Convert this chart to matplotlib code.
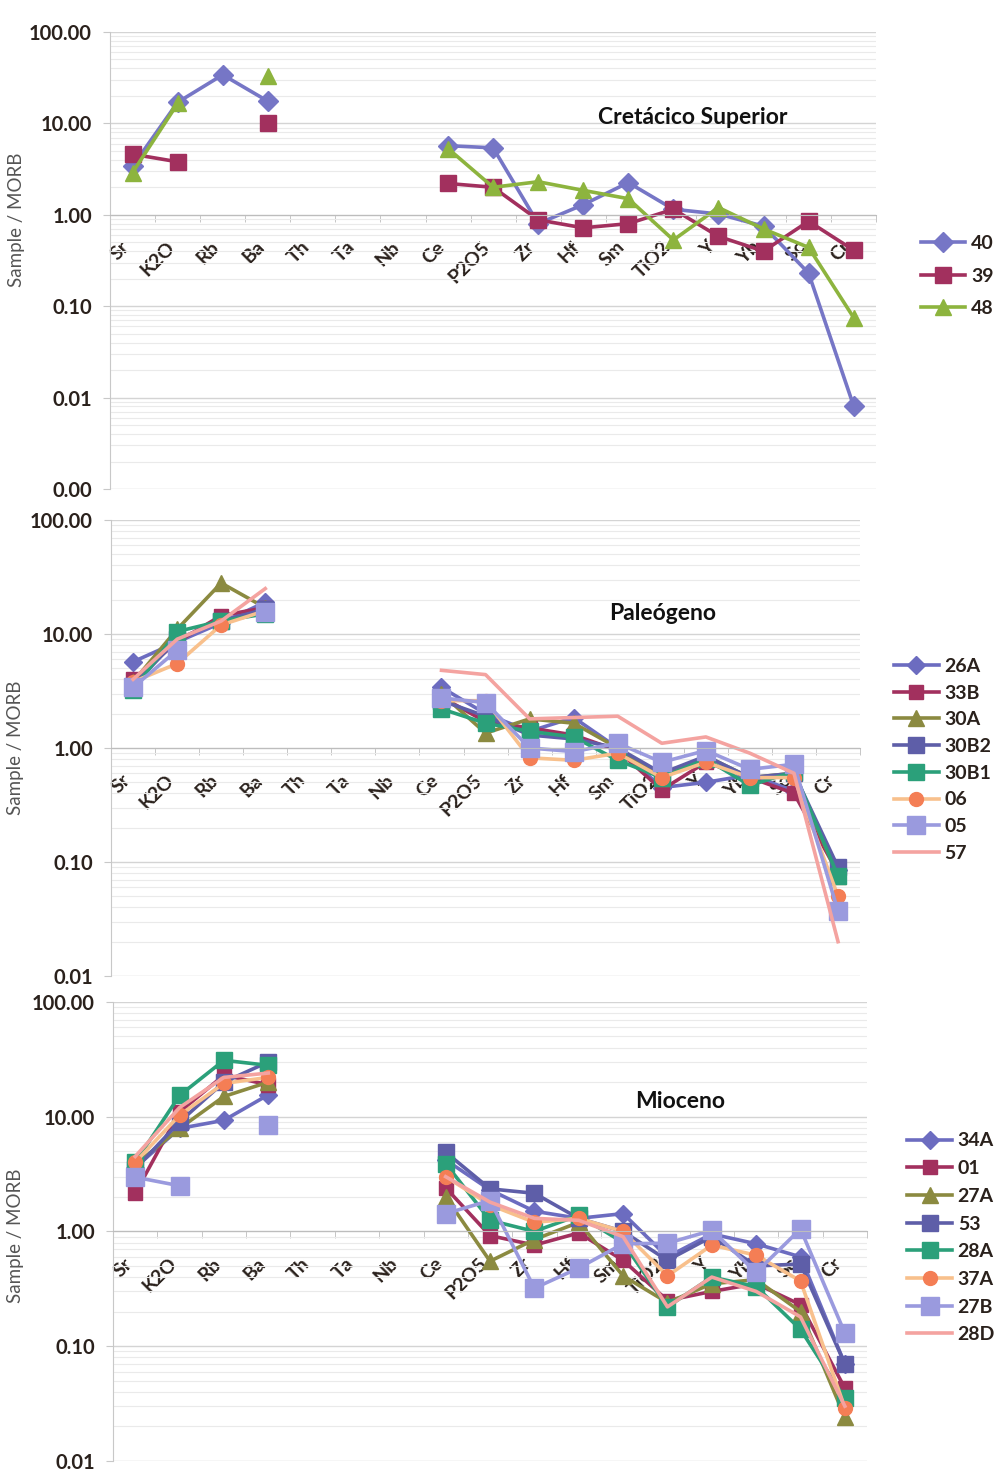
import numpy as np
import matplotlib
matplotlib.use('Agg')
import matplotlib.pyplot as plt
import matplotlib.transforms as mtransforms
from matplotlib.ticker import FuncFormatter, LogLocator, NullFormatter

plt.rcParams['font.family'] = ['Lato', 'DejaVu Sans']

nan = np.nan
elementos = ['Sr', 'K2O', 'Rb', 'Ba', 'Th', 'Ta', 'Nb', 'Ce', 'P2O5', 'Zr', 'Hf',
             'Sm', 'TiO2', 'Y', 'Yb', 'Sc', 'Cr']

# Cretácico Superior
nombres_cs = ['40', '39', '48']
m40 = [3.4, 17.0, 34.0, 17.5, nan, nan, nan, 5.7, 5.4, 0.80, 1.29, 2.25, 1.15, 1.02, 0.75, 0.23, 0.0081]
m39 = [4.6, 3.8, nan, 10.2, nan, nan, nan, 2.2, 2.0, 0.88, 0.72, 0.80, 1.15, 0.58, 0.40, 0.85, 0.41]
m48 = [2.9, 16.5, nan, 33.0, nan, nan, nan, 5.3, 2.0, 2.3, 1.85, 1.5, 0.53, 1.2, 0.70, 0.44, 0.075]

# Paleógeno
nombres_pa = ['26A', '33B', '30A', '30B2', '30B1', '06', '05', '57']
m26A = [5.7, 8.5, 12.5, 19.0, nan, nan, nan, 3.4, 2.0, 1.4, 1.85, 1.0, 0.45, 0.50, 0.58, 0.42, 0.085]
m33B = [4.0, 8.5, 14.5, 17.0, nan, nan, nan, 2.8, 1.7, 1.5, 1.3, 0.95, 0.43, 0.75, 0.55, 0.40, 0.080]
m30A = [3.8, 11.0, 28.0, 17.0, nan, nan, nan, 3.0, 1.35, 1.8, 1.65, 1.0, 0.55, 0.85, 0.55, 0.60, 0.075]
m30B2 = [3.5, 9.0, 13.0, 16.5, nan, nan, nan, 2.6, 1.9, 1.3, 1.2, 1.0, 0.60, 0.85, 0.55, 0.60, 0.090]
m30B1 = [3.2, 10.5, 13.0, 15.0, nan, nan, nan, 2.2, 1.65, 1.4, 1.25, 0.78, 0.55, 0.80, 0.47, 0.62, 0.075]
m06 = [3.8, 5.5, 12.0, 16.0, nan, nan, nan, 2.6, 2.6, 0.82, 0.78, 0.90, 0.55, 0.75, 0.55, 0.55, 0.050]
m05 = [3.4, 7.2, nan, 15.5, nan, nan, nan, 2.75, 2.5, 1.0, 0.93, 1.1, 0.75, 0.95, 0.65, 0.72, 0.037]
m57 = [4.0, 9.0, 13.0, 25.0, nan, nan, nan, 4.8, 4.4, 1.8, 1.85, 1.9, 1.1, 1.25, 0.90, 0.60, 0.020]

# Mioceno
nombres_mi = ['34A', '01', '27A', '53', '28A', '37A', '27B', '28D']
m34A = [3.6, 7.9, 9.3, 15.5, nan, nan, nan, 4.2, 2.3, 1.5, 1.3, 1.43, 0.60, 0.95, 0.78, 0.60, 0.070]
m01 = [2.15, 11.0, 23.0, 19.0, nan, nan, nan, 2.4, 0.92, 0.76, 0.97, 0.56, 0.25, 0.30, 0.35, 0.23, 0.043]
m27A = [3.8, 7.9, 15.0, 20.0, nan, nan, nan, 2.0, 0.55, 0.85, 1.2, 0.41, 0.24, 0.35, 0.38, 0.20, 0.024]
m53 = [3.5, 9.0, 20.0, 30.0, nan, nan, nan, 4.9, 2.35, 2.15, 1.3, 1.0, 0.56, 0.90, 0.50, 0.52, 0.070]
m28A = [4.0, 15.3, 31.0, 28.0, nan, nan, nan, 3.9, 1.25, 1.0, 1.38, 0.80, 0.22, 0.40, 0.33, 0.14, 0.035]
m37A = [4.0, 10.3, 19.5, 22.0, nan, nan, nan, 3.0, 1.7, 1.2, 1.3, 1.0, 0.41, 0.76, 0.62, 0.37, 0.029]
m27B = [2.97, 2.5, nan, 8.4, nan, nan, nan, 1.43, 1.86, 0.32, 0.48, 0.78, 0.79, 1.02, 0.44, 1.05, 0.13]
m28D = [4.5, 12.0, 22.0, 24.0, nan, nan, nan, 3.0, 1.8, 1.3, 1.25, 0.90, 0.22, 0.40, 0.30, 0.18, 0.030]

# estilos: (color linea, marcador, color marcador, tamaño)
est_cs = [('#7676C6', 'D', '#7676C6', 10),
          ('#A2305E', 's', '#A2305E', 11),
          ('#8DB43E', '^', '#8DB43E', 11)]
est_8 = [('#6C6CC0', 'D', '#6C6CC0', 9),
         ('#A2305E', 's', '#A2305E', 10.5),
         ('#8B8A40', '^', '#8B8A40', 11),
         ('#5E5EA8', 's', '#5E5EA8', 12),
         ('#2BA07A', 's', '#2BA07A', 12),
         ('#F8C08C', 'o', '#F47E55', 10),
         ('#9A9ADE', 's', '#9A9ADE', 13),
         ('#F4A3A0', None, '#F4A3A0', 0)]


def panel(ax, datos, nombres, estilos, titulo, ymin, pos_titulo, pos_leyenda, sep):
    x = np.arange(len(elementos))
    for d, n, (c, mk, mc, ms) in zip(datos, nombres, estilos):
        ax.plot(x, d, color=c, lw=2.6, marker=mk, ms=ms, mfc=mc, mec=mc, label=n)
    ax.set_yscale('log')
    ax.set_ylim(ymin, 100)
    ax.set_xlim(-0.5, len(elementos) - 0.5)
    ax.set_yticks([10.0**k for k in range(int(np.log10(ymin)), 3)])
    ax.yaxis.set_major_formatter(FuncFormatter(lambda v, p: '%.2f' % v))
    ax.yaxis.set_minor_locator(LogLocator(base=10, subs=np.arange(2, 10), numticks=20))
    ax.yaxis.set_minor_formatter(NullFormatter())
    ax.grid(which='major', axis='y', color='#D4D4D4', lw=1.0)
    ax.grid(which='minor', axis='y', color='#EAEAEA', lw=0.8)
    ax.set_axisbelow(True)
    for s in ['top', 'right']:
        ax.spines[s].set_visible(False)
    ax.spines['left'].set_color('#C8C8C8')
    ax.spines['bottom'].set_position(('data', 1.0))
    ax.spines['bottom'].set_color('#BDBDBD')
    ax.tick_params(axis='y', which='major', length=5, color='#C8C8C8', labelsize=14.5,
                   labelcolor='#2A211C', pad=8)
    ax.tick_params(axis='y', which='minor', length=0)
    for t in ax.get_yticklabels():
        t.set_fontweight('bold')
    ax.set_xticks(x)
    ax.set_xticks(np.arange(len(elementos) + 1) - 0.5, minor=True)
    ax.tick_params(axis='x', which='major', length=0, pad=14, labelsize=14, labelcolor='#2A211C')
    ax.tick_params(axis='x', which='minor', length=5, color='#BDBDBD')
    ax.set_xticklabels(elementos, rotation=45, ha='right', va='center',
                       rotation_mode='anchor', fontweight='bold')
    desplaza = mtransforms.ScaledTranslation(-0.06, -0.1, ax.figure.dpi_scale_trans)
    for t in ax.get_xticklabels():
        t.set_transform(t.get_transform() + desplaza)
    ax.set_ylabel('Sample / MORB', fontsize=13.5, color='#555555')
    ax.text(pos_titulo[0], pos_titulo[1], titulo, transform=ax.transAxes, ha='center',
            va='center', fontsize=16.5, fontweight='bold', color='#111111')
    leg = ax.legend(loc='center left', bbox_to_anchor=pos_leyenda, frameon=False,
                    fontsize=14, handlelength=2.3, labelspacing=sep, handletextpad=0.3)
    for t in leg.get_texts():
        t.set_fontweight('bold')
        t.set_color('#2A211C')


fig = plt.figure(figsize=(9.95, 14.73), dpi=100)
ax1 = fig.add_axes([0.1106, 0.668, 0.770, 0.3103])
ax2 = fig.add_axes([0.1116, 0.3374, 0.7528, 0.3096])
ax3 = fig.add_axes([0.1136, 0.0082, 0.7578, 0.3116])

panel(ax1, [m40, m39, m48], nombres_cs, est_cs, 'Cretácico Superior', 0.001,
      (0.761, 0.812), (1.035, 0.466), 0.8)
panel(ax2, [m26A, m33B, m30A, m30B2, m30B1, m06, m05, m57], nombres_pa, est_8, 'Paleógeno', 0.01,
      (0.737, 0.794), (1.022, 0.474), 0.5)
panel(ax3, [m34A, m01, m27A, m53, m28A, m37A, m27B, m28D], nombres_mi, est_8, 'Mioceno', 0.01,
      (0.752, 0.782), (1.03, 0.486), 0.55)

ax1.yaxis.set_label_coords(-0.111, 0.59)
ax2.yaxis.set_label_coords(-0.116, 0.50)
ax3.yaxis.set_label_coords(-0.118, 0.49)

fig.savefig('out.png', dpi=100, facecolor='white')
